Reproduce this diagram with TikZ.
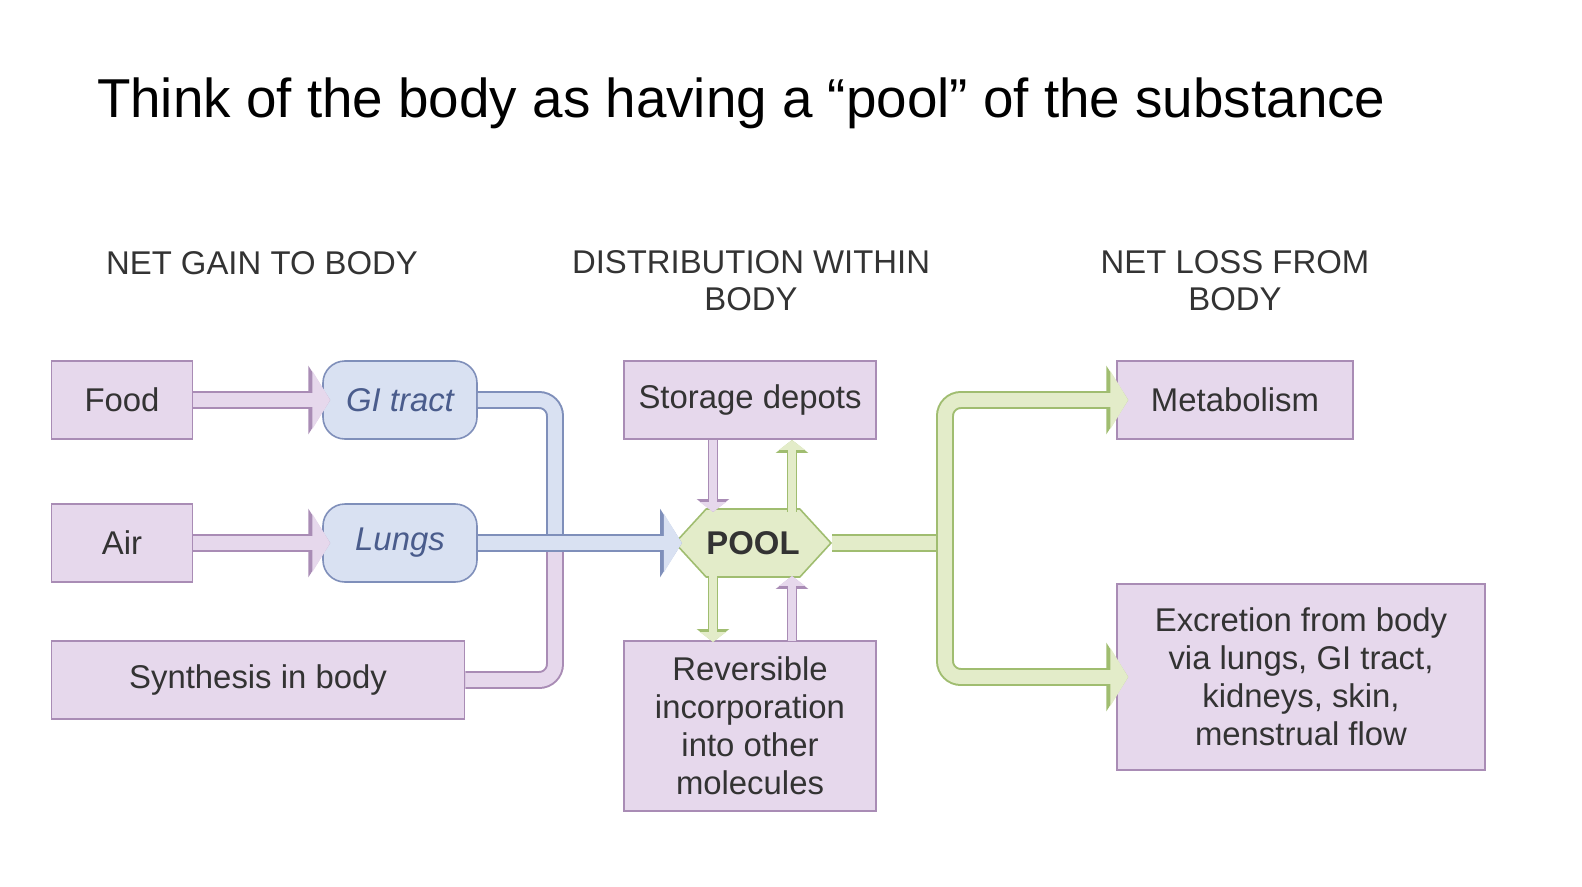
\documentclass[tikz,border=0pt]{standalone}
\usepackage{fontspec}
\setmainfont{Liberation Sans}
\usetikzlibrary{arrows.meta,shapes.symbols}
\definecolor{pk}{HTML}{E6D8EC}\definecolor{pkb}{HTML}{A98CB5}
\definecolor{bl}{HTML}{D9E1F2}\definecolor{blb}{HTML}{7F8FBA}
\definecolor{gr}{HTML}{E3ECC9}\definecolor{grb}{HTML}{A0BD70}
\definecolor{hd}{HTML}{333333}\definecolor{bt}{HTML}{4A5C8C}
\begin{document}
\begin{tikzpicture}[x=0.5bp,y=-0.5bp,
 box/.style={draw=pkb,fill=pk,line width=0.8pt,font=\fontsize{16.5}{19}\selectfont,text=hd,align=center,inner sep=0pt},
 org/.style={draw=blb,fill=bl,line width=0.8pt,rounded corners=11pt,font=\fontsize{16.5}{19}\selectfont\itshape,text=bt,inner sep=0pt},
 head/.style={font=\fontsize{16.5}{18.5}\selectfont,text=hd,align=center},
 pipe/.style 2 args={preaction={draw=#2,line width=9pt,rounded corners=8pt,-{Triangle[length=11pt,width=34pt]}},draw=#1,line width=7pt,rounded corners=8pt,-{Triangle[length=9pt,width=29pt]}},
 pipeline/.style 2 args={preaction={draw=#2,line width=9pt,rounded corners=8pt},draw=#1,line width=7pt,rounded corners=8pt},
 thin/.style 2 args={preaction={draw=#2,line width=5pt,-{Triangle[length=6.5pt,width=16pt]}},draw=#1,line width=3.6pt,-{Triangle[length=5pt,width=13pt]}}]
\useasboundingbox (0,0) rectangle (1582,886);
\node[font=\fontsize{27.5}{32}\selectfont,anchor=west] (title) at (90,103) {Think of the body as having a “pool” of the substance};
\node[head] (h1) at (262,263) {NET GAIN TO BODY};
\node[head] (h2) at (751,281) {DISTRIBUTION WITHIN\\BODY};
\node[head] (h3) at (1235,281) {NET LOSS FROM\\BODY};
\node[box,minimum width=70.5bp,minimum height=39bp] (food) at (122,400) {Food};
\node[box,minimum width=70.5bp,minimum height=39bp] (air) at (122,543) {Air};
\node[box,minimum width=206.5bp,minimum height=39bp] (syn) at (258,680) {Synthesis in body};
\node[org,minimum width=77bp,minimum height=39bp] (gi) at (400,400) {GI tract};
\node[org,minimum width=77bp,minimum height=39bp] (lungs) at (400,543) {Lungs};
\node[box,minimum width=126bp,minimum height=39bp] (store) at (750,400) {Storage depots};
\node[box,minimum width=126bp,minimum height=85bp] (rev) at (750,726) {Reversible\\incorporation\\into other\\molecules};
\node[box,minimum width=118bp,minimum height=39bp] (meta) at (1235,400) {Metabolism};
\node[box,minimum width=184bp,minimum height=93bp] (exc) at (1301,677) {Excretion from body\\via lungs, GI tract,\\kidneys, skin,\\menstrual flow};
\coordinate (j1) at (555,543);
\coordinate (j2) at (945,543);
\coordinate (s1) at (713,440); \coordinate (p1) at (713,512);
\coordinate (p2) at (792,512); \coordinate (s2) at (792,440);
\coordinate (p3) at (713,576); \coordinate (r1) at (713,642);
\coordinate (r2) at (792,641); \coordinate (p4) at (792,576);
\draw[pipe={pk}{pkb}] (food.east) -- ([xshift=4bp]gi.west);
\draw[pipe={pk}{pkb}] (air.east) -- ([xshift=4bp]lungs.west);
\draw[pipeline={bl}{blb}] (gi.east) -| (j1);
\draw[pipeline={pk}{pkb}] (syn.east) -| (j1);
\node[signal,signal to=east and west,signal pointer angle=95,draw=grb,fill=gr,line width=0.8pt,minimum width=78bp,minimum height=34bp,font=\fontsize{16.5}{19}\selectfont\bfseries,text=hd,inner sep=0pt] (pool) at (753,543) {POOL};
\draw[pipe={bl}{blb}] (lungs.east) -- ([xshift=4bp]pool.west);
\draw[pipeline={gr}{grb}] (pool.east) -- (j2);
\draw[pipe={gr}{grb}] (j2) |- ([xshift=6bp]meta.west);
\draw[pipe={gr}{grb}] (j2) |- ([xshift=6bp]exc.west);
\draw[thin={pk}{pkb}] (s1) -- (p1);
\draw[thin={gr}{grb}] (p2) -- (s2);
\draw[thin={gr}{grb}] (p3) -- (r1);
\draw[thin={pk}{pkb}] (r2) -- (p4);
\end{tikzpicture}
\end{document}
